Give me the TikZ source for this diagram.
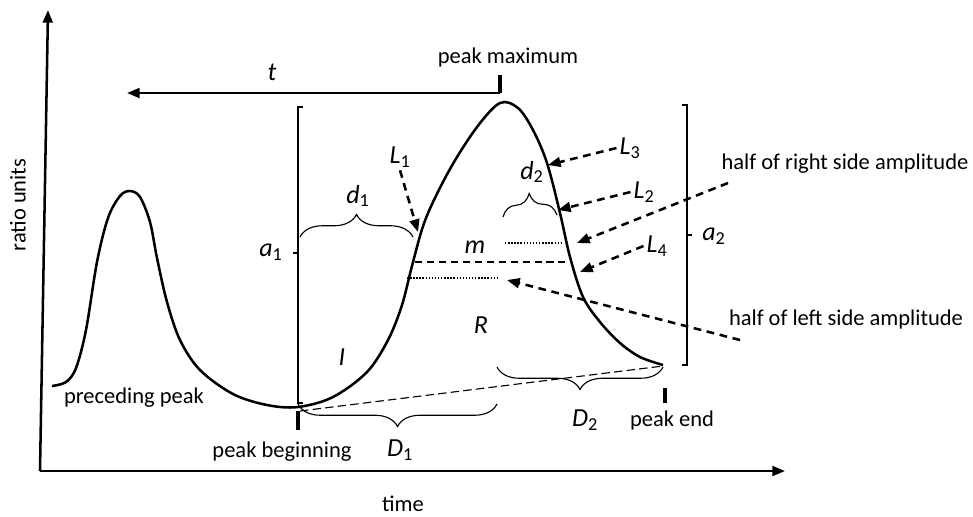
\documentclass[tikz,border=0pt]{standalone}
\usepackage{fontspec}
\setmainfont{Carlito}
\usetikzlibrary{positioning, arrows.meta, decorations.pathreplacing}

\newcommand{\sym}[2]{\textit{#1}\textsubscript{#2}}

\begin{document}
\begin{tikzpicture}[x=0.025cm, y=-0.025cm, font=\fontsize{16}{19}\selectfont,
    axis/.style={line width=1.8pt, -{Triangle[length=9pt, width=7pt]}},
    curve/.style={line width=1.8pt},
    pointer/.style={line width=1.8pt, dash pattern=on 5.5pt off 4pt, -{Triangle[length=9pt, width=7pt]}},
    bracket/.style={line width=0.8pt},
    curly/.style={line width=0.8pt, decorate, decoration={brace, amplitude=16pt}},
    curlydown/.style={line width=0.8pt, decorate, decoration={brace, mirror, amplitude=16pt}},
    tickmark/.style={line width=2.6pt},
    halfline/.style={line width=0.9pt, dash pattern=on 1pt off 1.2pt},
    lab/.style={inner sep=2pt},
    symlab/.style={inner sep=2pt, font=\fontsize{18.5}{22}\selectfont}]

  \useasboundingbox (0,0) rectangle (973,516);

  % --- axes ---
  \coordinate (origin) at (40,471);
  \coordinate (ytop) at (48,10);
  \coordinate (xend) at (785,471);
  \draw[axis] (origin) -- (ytop);
  \draw[axis] (origin) -- (xend);
  \node[lab, rotate=90] (ylab) at (18,205) {ratio units};
  \node[lab] (xlab) at (403,504) {time};

  % --- preceding peak and main peak ---
  \draw[curve] plot[smooth, tension=0.55] coordinates {
    (52,386) (66,382) (76,368) (86,330) (97,262) (108,218) (120,196) (130,191)
    (140,197) (150,222) (157,258) (167,302) (180,340) (200,370) (233,394)
    (267,405) (298,407) (333,397) (367,372) (388,340) (402,305) (413,262)
    (426,218) (450,169) (477,127) (500,103) (518,108) (533,130) (547,163)
    (560,213) (570,257) (583,297) (600,322) (620,343) (640,357) (663,365)};

  % --- peak marks ---
  \coordinate (pmax) at (500,93);
  \coordinate (tend) at (127,93);
  \draw[tickmark] (pmax) -- ++(0,-18);
  \node[lab] (lmax) at (508,57) {peak maximum};
  \draw[axis] (pmax) -- (tend);
  \node[symlab] (tlab) at (272,72) {\textit{t}};

  \coordinate (pbeg) at (298,411);
  \draw[tickmark] (pbeg) -- ++(0,19);
  \node[lab] (lbeg) at (282,452) {peak beginning};
  \coordinate (pend) at (665,388);
  \draw[tickmark] (pend) -- ++(0,15);
  \node[lab] (lend) at (672,420) {peak end};
  \node[lab] (lprec) at (134,398) {preceding peak};

  \coordinate (base1) at (300,411);
  \coordinate (base2) at (663,366);
  \draw[line width=0.8pt, dash pattern=on 6pt off 3pt] (base1) -- (base2);

  % --- amplitudes ---
  \draw[bracket] (303,107) -- (298,107) -- (298,403) -- (303,403);
  \draw[bracket] (298,253) -- (293,253);
  \node[symlab] (a1) at (271,252) {\sym{a}{1}};
  \draw[bracket] (682,105) -- (687,105) -- (687,365) -- (682,365);
  \draw[bracket] (687,235) -- (692,235);
  \node[symlab] (a2) at (714,236) {\sym{a}{2}};

  % --- half amplitude lines ---
  \draw[line width=1.2pt, dash pattern=on 5pt off 3.5pt] (415,262) -- (568,262);
  \node[symlab] (m) at (475,247) {\textit{m}};
  \draw[halfline] (407,278) -- (498,278);
  \draw[halfline] (505,243) -- (563,243);

  % --- widths ---
  \draw[curly] (300,237) -- (413,237);
  \node[symlab] (d1) at (358,196) {\sym{d}{1}};
  \draw[curly] (503,217) -- (557,215);
  \node[symlab] (d2) at (532,172) {\sym{d}{2}};
  \draw[curlydown] (298,404) -- (497,404);
  \node[symlab] (D1) at (400,450) {\sym{D}{1}};
  \draw[curlydown] (497,367) -- (663,367);
  \node[symlab] (D2) at (585,420) {\sym{D}{2}};

  \node[symlab] (R) at (481,325) {\textit{R}};
  \node[symlab] (I) at (342,357) {\textit{I}};

  % --- pointers ---
  \node[symlab] (L1) at (400,157) {\sym{L}{1}};
  \coordinate (L1tip) at (418,232);
  \draw[pointer] (L1.south) -- (L1tip);
  \node[symlab] (L3) at (630,148) {\sym{L}{3}};
  \coordinate (L3tip) at (548,165);
  \draw[pointer] (L3.west) -- (L3tip);
  \node[symlab] (L2) at (644,192) {\sym{L}{2}};
  \coordinate (L2tip) at (558,210);
  \draw[pointer] (L2.west) -- (L2tip);
  \node[symlab] (L4) at (657,246) {\sym{L}{4}};
  \coordinate (L4tip) at (580,272);
  \draw[pointer] (L4.west) -- (L4tip);

  \node[lab] (hright) at (845,164) {half of right side amplitude};
  \coordinate (hrstart) at (728,183);
  \coordinate (hrtip) at (577,243);
  \draw[pointer] (hrstart) -- (hrtip);
  \node[lab] (hleft) at (846,319) {half of left side amplitude};
  \coordinate (hlstart) at (740,340);
  \coordinate (hltip) at (507,280);
  \draw[pointer] (hlstart) -- (hltip);
\end{tikzpicture}
\end{document}
